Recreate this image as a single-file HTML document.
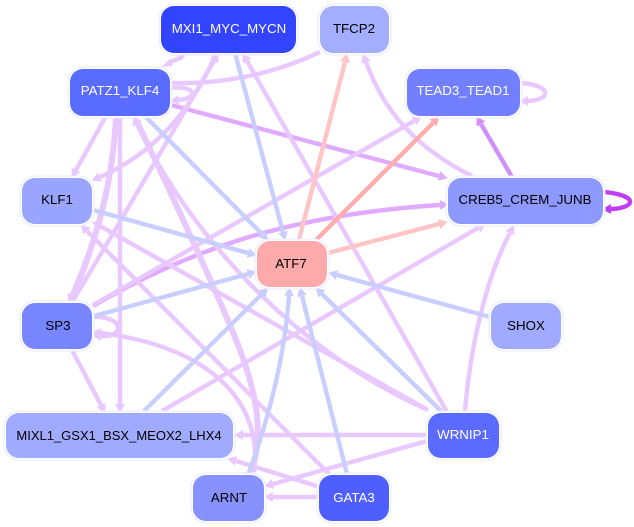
<!DOCTYPE html>
<html><head><meta charset="utf-8"><style>
html,body{margin:0;padding:0;background:#fff}
svg{display:block}
text{font-family:"Liberation Sans",sans-serif;font-size:13.3px;text-anchor:middle}
.b{stroke:#c8cfff;marker-end:url(#mb)}
.p{stroke:#e9c8ff;marker-end:url(#mp)}
.q{stroke:#e0aaff;marker-end:url(#mq)}
.r{stroke:#ffc4c4;marker-end:url(#mr)}
.s{stroke:#ffacac;marker-end:url(#ms)}
.t{stroke:#d28fff;marker-end:url(#mt)}
.u{stroke:#c23cf5;marker-end:url(#mu)}
path{fill:none;stroke-width:4.4}
marker path{stroke:none}
.n{stroke:#e8eaff;stroke-width:1;fill:#fff}
</style></head><body>
<svg width="634" height="527" viewBox="0 0 634 527" xmlns="http://www.w3.org/2000/svg">
<defs>
<marker id="mb" markerUnits="userSpaceOnUse" markerWidth="10" markerHeight="11" refX="0" refY="5.5" orient="auto"><path d="M0,0.5L9,5.5L0,10.5z" style="fill:#c8cfff"/></marker>
<marker id="mp" markerUnits="userSpaceOnUse" markerWidth="10" markerHeight="11" refX="0" refY="5.5" orient="auto"><path d="M0,0.5L9,5.5L0,10.5z" style="fill:#e9c8ff"/></marker>
<marker id="mq" markerUnits="userSpaceOnUse" markerWidth="10" markerHeight="11" refX="0" refY="5.5" orient="auto"><path d="M0,0.5L9,5.5L0,10.5z" style="fill:#e0aaff"/></marker>
<marker id="mr" markerUnits="userSpaceOnUse" markerWidth="10" markerHeight="11" refX="0" refY="5.5" orient="auto"><path d="M0,0.5L9,5.5L0,10.5z" style="fill:#ffc4c4"/></marker>
<marker id="ms" markerUnits="userSpaceOnUse" markerWidth="10" markerHeight="11" refX="0" refY="5.5" orient="auto"><path d="M0,0.5L9,5.5L0,10.5z" style="fill:#ffacac"/></marker>
<marker id="mt" markerUnits="userSpaceOnUse" markerWidth="10" markerHeight="11" refX="0" refY="5.5" orient="auto"><path d="M0,0.5L9,5.5L0,10.5z" style="fill:#d28fff"/></marker>
<marker id="mu" markerUnits="userSpaceOnUse" markerWidth="10" markerHeight="11" refX="0" refY="5.5" orient="auto"><path d="M0,0.5L9,5.5L0,10.5z" style="fill:#c23cf5"/></marker>
</defs>

<path class="q" d="M93,306C180,255 280,215 440,205"/>
<path class="q" d="M171,105L439,176"/>
<path class="p" style="marker:none" d="M320,52Q250,85 171,83"/>
<path class="p" d="M171,88C195,85 200,98 179,100"/>
<path class="p" d="M215,56Q177,143 100,177"/>
<path class="p" d="M72,302Q95,265 214,61"/>
<path class="p" style="stroke-width:6;marker:none" d="M116,118C112,190 95,240 76,290"/>
<path class="p" d="M116,125C112,190 95,240 72,295"/>
<path class="p" style="stroke-width:6" d="M250,474C266,435 255,390 240,350S170,190 138,124"/>
<path class="p" d="M428,410C325,365 205,265 137,124"/>
<path class="p" d="M254,472C262,420 232,350 101,333"/>
<path class="p" d="M93,317C125,316 125,338 101,336"/>
<path class="p" d="M521,83C552,85 552,100 528,101"/>
<path class="p" d="M472,176C420,150 385,115 366,62"/>
<path class="p" d="M465,411C470,350 485,280 510,233"/>
<path class="p" style="marker:none" d="M168,63L180,58"/>
<polygon points="161,67 170,59 173,66" fill="#e9c8ff"/>
<polygon points="187,54 178,54 181,61" fill="#e9c8ff"/>
<path class="p" d="M447,412L247,61"/>
<path class="p" d="M106,116L76,170"/>
<path class="p" d="M120,116L120,404"/>
<path class="p" d="M428,410L100,226"/>
<path class="p" d="M330,475L87,231"/>
<path class="p" d="M72,350L101,405"/>
<path class="p" d="M162,411L478,228"/>
<path class="p" d="M93,305L414,121"/>
<path class="p" d="M427,435L243,435"/>
<path class="p" d="M427,441L273,484"/>
<path class="p" d="M318,497L273,497"/>
<path class="p" d="M320,487L236,461"/>
<path class="b" d="M235,53L283,232"/>
<path class="b" d="M145,116L262,234"/>
<path class="b" d="M93,210L248,253"/>
<path class="b" d="M94,316L248,274"/>
<path class="b" d="M144,411L262,294"/>
<path class="b" d="M490,317L337,275"/>
<path class="b" d="M441,411L322,294"/>
<path class="b" d="M347,474L302,296"/>
<path class="b" d="M248,475C272,410 285,350 289,296"/>
<path class="r" d="M299,240L345,62"/>
<path class="s" d="M316,240L433,123"/>
<path class="r" d="M328,253L439,224"/>
<path class="t" d="M512,177L481,124"/>
<path class="u" d="M605,192C640,196 635,208 611,209"/>

<g>
<rect class="n" x="159" y="4" width="139" height="51" rx="15"/><rect x="161" y="6" width="135" height="47" rx="13" fill="#3344ff"/><text x="229" y="33" fill="#fff">MXI1_MYC_MYCN</text>
<rect class="n" x="318" y="4" width="73" height="51" rx="15"/><rect x="320" y="6" width="69" height="47" rx="13" fill="#a3aeff"/><text x="354" y="33">TFCP2</text>
<rect class="n" x="68" y="67" width="104" height="51" rx="15"/><rect x="70" y="69" width="100" height="47" rx="13" fill="#5a6bff"/><text x="120" y="95" fill="#fff">PATZ1_KLF4</text>
<rect class="n" x="405" y="67" width="117" height="51" rx="15"/><rect x="407" y="69" width="113" height="47" rx="13" fill="#7280ff"/><text x="463" y="95" fill="#fff">TEAD3_TEAD1</text>
<rect class="n" x="20" y="176" width="74" height="50" rx="15"/><rect x="22" y="178" width="70" height="46" rx="13" fill="#99a5ff"/><text x="57" y="204">KLF1</text>
<rect class="n" x="446" y="176" width="159" height="50" rx="15"/><rect x="448" y="178" width="155" height="46" rx="13" fill="#8e99ff"/><text x="525" y="204">CREB5_CREM_JUNB</text>
<rect class="n" x="255" y="239" width="74" height="50" rx="15"/><rect x="257" y="241" width="70" height="46" rx="13" fill="#ffaaaa"/><text x="291" y="268">ATF7</text>
<rect class="n" x="20" y="301" width="74" height="50" rx="15"/><rect x="22" y="303" width="70" height="46" rx="13" fill="#7785ff"/><text x="58" y="330">SP3</text>
<rect class="n" x="489" y="301" width="74" height="50" rx="15"/><rect x="491" y="303" width="70" height="46" rx="13" fill="#a0abff"/><text x="526" y="330">SHOX</text>
<rect class="n" x="4" y="411" width="231" height="49" rx="15"/><rect x="6" y="413" width="227" height="45" rx="13" fill="#a0abff"/><text x="119" y="440" style="font-size:13px">MIXL1_GSX1_BSX_MEOX2_LHX4</text>
<rect class="n" x="426" y="411" width="75" height="49" rx="15"/><rect x="428" y="413" width="71" height="45" rx="13" fill="#5c6bff"/><text x="463" y="439" fill="#fff">WRNIP1</text>
<rect class="n" x="191" y="473" width="75" height="50" rx="15"/><rect x="193" y="475" width="71" height="46" rx="13" fill="#8892ff"/><text x="229" y="502">ARNT</text>
<rect class="n" x="317" y="473" width="74" height="50" rx="15"/><rect x="319" y="475" width="70" height="46" rx="13" fill="#4f5fff"/><text x="354" y="502" fill="#fff">GATA3</text>
</g>
</svg>
</body></html>
